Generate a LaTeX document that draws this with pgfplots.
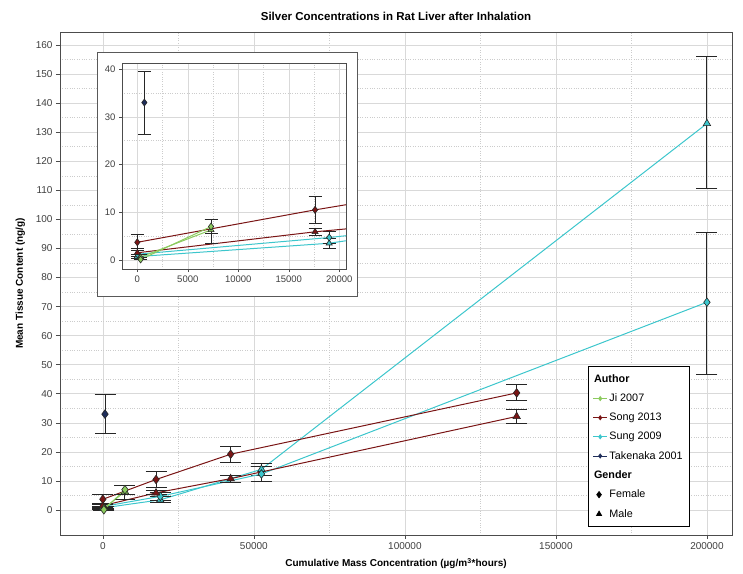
\documentclass[border=0pt]{standalone}
\usepackage{fontspec}
\setmainfont{Liberation Sans}
\usepackage{pgfplots}
\pgfplotsset{compat=1.18}
\usepackage{pgfplotstable}

\definecolor{jicol}{HTML}{8CCB5E}
\definecolor{songcol}{HTML}{7A1515}
\definecolor{sungcol}{HTML}{3CC6CC}
\definecolor{takcol}{HTML}{1E2D5A}

\pgfplotstableread{
x y ep em
330 0.1 0.4 0.1
7300 7.0 1.5 1.5
}\jiF
\pgfplotstableread{
x y ep em
330 0.6 0.5 0.5
7300 6.3 2.2 2.8
}\jiM
\pgfplotstableread{
x y ep em
0 3.7 1.7 1.7
17600 10.5 2.9 2.9
42300 19.2 2.8 2.8
137000 40.3 2.9 2.7
}\songF
\pgfplotstableread{
x y ep em
0 1.5 0.8 0.8
17600 5.9 0.7 0.7
42300 10.8 1.2 1.2
137000 32.2 2.3 2.3
}\songM
\pgfplotstableread{
x y ep em
0 1.2 0.8 0.8
19000 4.7 1.3 1.3
52500 12.4 2.6 2.6
200000 71.5 24.0 24.8
}\sungF
\pgfplotstableread{
x y ep em
0 0.7 0.5 0.5
19000 3.5 1.0 1.0
52500 14.0 2.0 2.0
200000 133.0 23.0 22.5
}\sungM
\pgfplotstableread{
x y ep em
700 33.0 6.6 6.6
}\takF

\newcommand{\series}[5]{%
 \addplot[forget plot, color=#1, line width=1pt, mark=#2, mark size=#4,
   mark options={fill=#1, draw=black!85, line width=0.6pt, solid},
   error bars/.cd, y dir=both, y explicit,
   error bar style={black!85, line width=1pt},
   error mark options={rotate=90, mark size=#5, black!85, line width=1pt}]
   table[x=x, y=y, y error plus=ep, y error minus=em]{#3};
}
\newcommand{\allseries}[2]{%
 \series{sungcol}{triangle*}{\sungM}{#1}{#2}
 \series{sungcol}{diamond*}{\sungF}{#1}{#2}
 \series{songcol}{triangle*}{\songM}{#1}{#2}
 \series{songcol}{diamond*}{\songF}{#1}{#2}
 \series{jicol}{triangle*}{\jiM}{#1}{#2}
 \series{jicol}{diamond*}{\jiF}{#1}{#2}
 \series{takcol}{diamond*}{\takF}{#1}{#2}
}

\begin{document}
\begin{tikzpicture}
\useasboundingbox (-60pt,-38pt) rectangle (683pt,535pt);
\begin{axis}[
  at={(0pt,0pt)}, anchor=south west, scale only axis,
  width=672pt, height=503pt,
  xmin=-14200, xmax=208300, ymin=-8.6, ymax=164.5,
  xtick={0,50000,...,200000}, ytick={0,10,...,160},
  minor x tick num=1, minor y tick num=1,
  grid=both,
  major grid style={gray!30, line width=0.6pt},
  minor grid style={gray!40, dotted, line width=0.6pt},
  axis line style={black!70, line width=0.8pt},
  tick style={black!70, line width=0.6pt},
  tick align=outside, major tick length=4pt, minor tick length=0pt,
  xtick pos=bottom, ytick pos=left,
  scaled x ticks=false,
  /pgf/number format/fixed,
  /pgf/number format/set thousands separator={},
  /pgf/number format/assume math mode=true,
  tick label style={font=\fontsize{10}{12}\selectfont, text=black!75},
  title={\textbf{Silver Concentrations in Rat Liver after Inhalation}},
  title style={font=\fontsize{11.5}{13}\selectfont, yshift=2pt},
  xlabel={\textbf{Cumulative Mass Concentration (µg/m\textsuperscript{3}*hours)}},
  ylabel={\textbf{Mean Tissue Content (ng/g)}},
  xlabel style={yshift=-2pt},
  ylabel style={yshift=4pt},
  label style={font=\fontsize{10}{12}\selectfont},
  legend style={at={(0.9375,0.016)}, anchor=south east, draw=black, line width=0.6pt,
    font=\fontsize{10.8}{13}\selectfont, cells={anchor=west}, row sep=6pt,
    inner xsep=5pt, inner ysep=6pt},
  legend image code/.code={\draw[mark repeat=2,mark phase=2] plot coordinates {(0cm,0cm) (0.24cm,0cm) (0.48cm,0cm)};},
]
\allseries{4.3pt}{10.5pt}
\addlegendimage{empty legend}\addlegendentry{\hspace*{-0.54cm}\textbf{Author}}
\addlegendimage{jicol, line width=0.8pt, mark=diamond*, mark size=2pt}\addlegendentry{Ji 2007}
\addlegendimage{songcol, line width=0.8pt, mark=diamond*, mark size=2pt}\addlegendentry{Song 2013}
\addlegendimage{sungcol, line width=0.8pt, mark=diamond*, mark size=2pt}\addlegendentry{Sung 2009}
\addlegendimage{takcol, line width=0.8pt, mark=diamond*, mark size=2pt}\addlegendentry{Takenaka 2001}
\addlegendimage{empty legend}\addlegendentry{\hspace*{-0.54cm}\textbf{Gender}}
\addlegendimage{legend image code/.code={\draw[black, mark=diamond*, mark size=3.2pt] plot coordinates {(0.2cm,0cm)};}}\addlegendentry{Female}
\addlegendimage{legend image code/.code={\draw[black, mark=triangle*, mark size=3pt] plot coordinates {(0.2cm,0cm)};}}\addlegendentry{Male}
\end{axis}
\fill[white] (37pt,239pt) rectangle (297pt,483pt);
\draw[black!65, line width=0.9pt] (37pt,239pt) rectangle (297pt,483pt);
\begin{axis}[
  at={(62pt,266pt)}, anchor=south west, scale only axis,
  width=224pt, height=206pt,
  xmin=-1515, xmax=20663, ymin=-1.9, ymax=41.3,
  xtick={0,5000,...,20000}, ytick={0,10,...,40},
  minor x tick num=1, minor y tick num=1,
  grid=both,
  major grid style={gray!30, line width=0.6pt},
  minor grid style={gray!40, dotted, line width=0.6pt},
  axis line style={black!70, line width=0.8pt},
  tick style={black!70, line width=0.6pt},
  tick align=outside, major tick length=3pt, minor tick length=0pt,
  xtick pos=bottom, ytick pos=left,
  scaled x ticks=false,
  /pgf/number format/fixed,
  /pgf/number format/set thousands separator={},
  /pgf/number format/assume math mode=true,
  tick label style={font=\fontsize{9.5}{11}\selectfont, text=black!75},
  clip=true,
]
\allseries{3.5pt}{6.5pt}
\end{axis}
\end{tikzpicture}
\end{document}
